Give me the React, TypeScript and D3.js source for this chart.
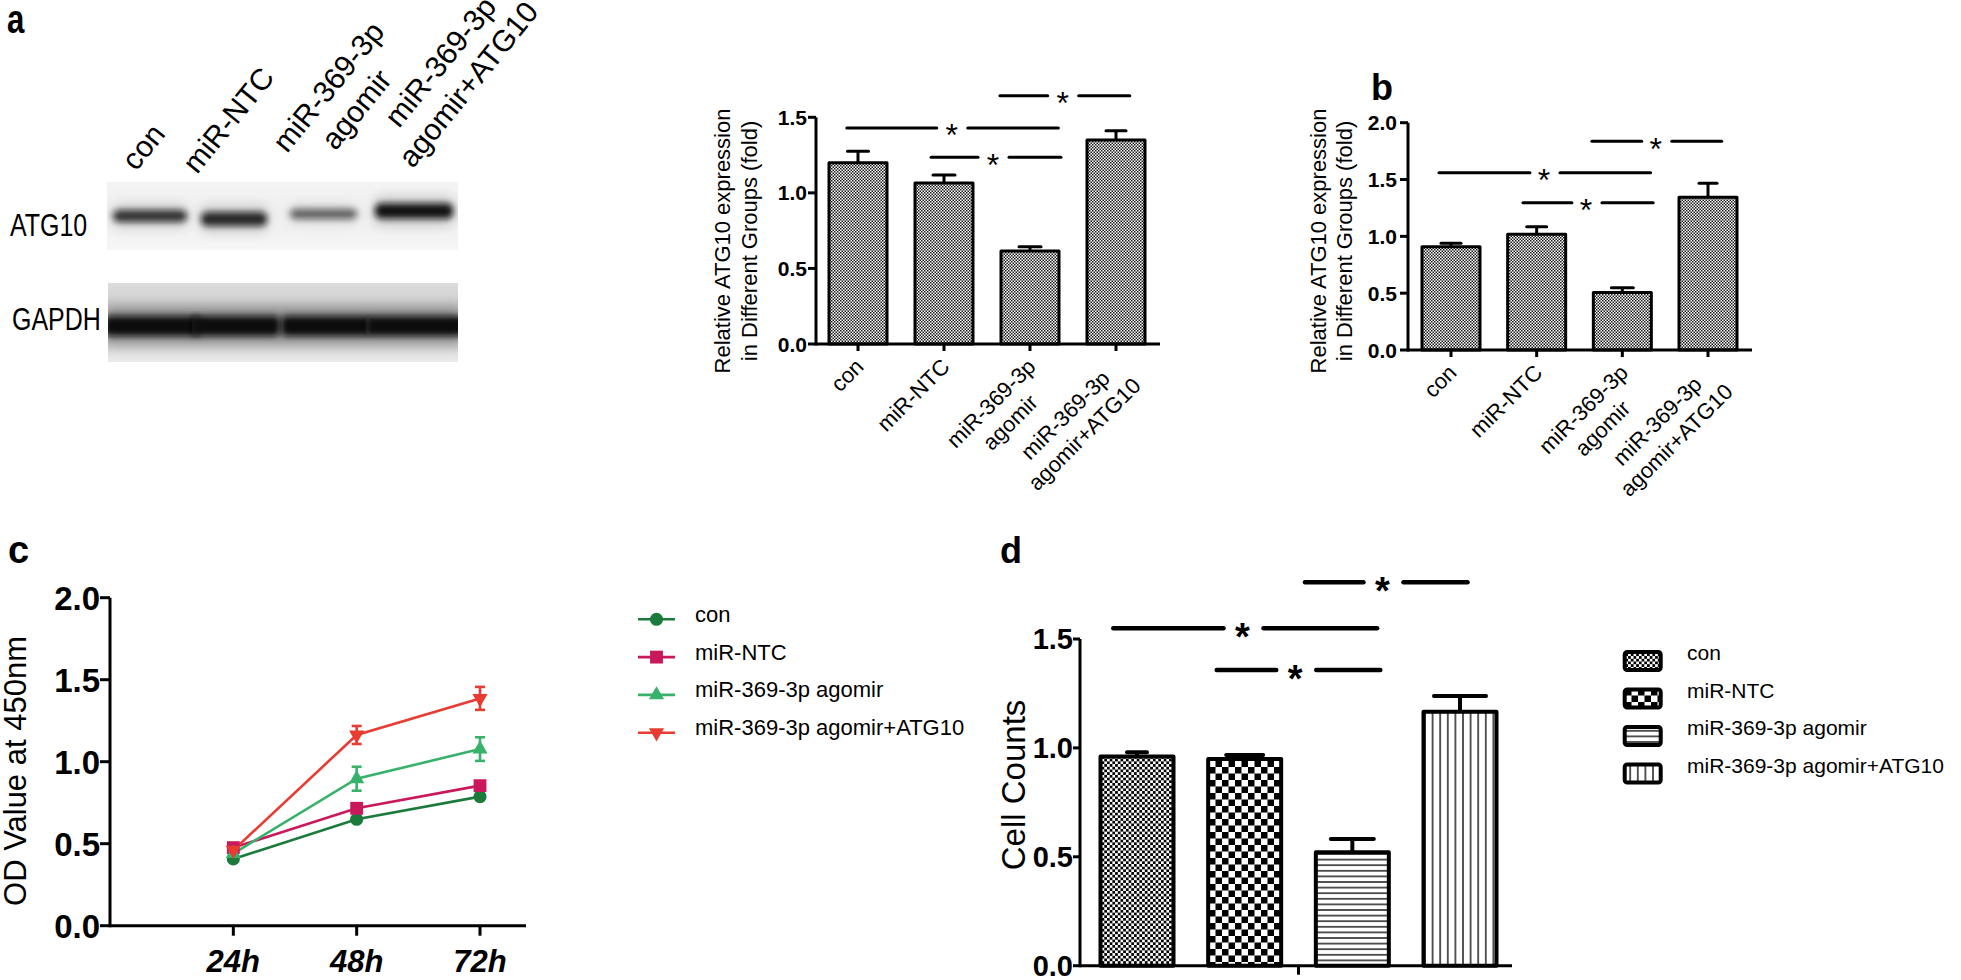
import React from 'react';
import * as d3 from 'd3';

// ---------------- DATA ----------------
const groups = ['con', 'miR-NTC', 'miR-369-3p agomir', 'miR-369-3p agomir+ATG10'];
const groupTickLines = [['con'], ['miR-NTC'], ['miR-369-3p', 'agomir'], ['miR-369-3p', 'agomir+ATG10']];

// panel a – relative ATG10 expression (western blot quantification)
const aMeans = [1.2, 1.065, 0.615, 1.35];
const aSems = [0.076, 0.053, 0.029, 0.061];
const aTicks = [0, 0.5, 1.0, 1.5];
// panel b – relative ATG10 expression
const bMeans = [0.909, 1.018, 0.507, 1.344];
const bSems = [0.03, 0.067, 0.041, 0.123];
const bTicks = [0, 0.5, 1.0, 1.5, 2.0];
// panel c – OD value at 450nm
const timePoints = ['24h', '48h', '72h'];
const cCon = [0.407, 0.649, 0.787];
const cConErr = [0.012, 0.015, 0.015];
const cNTC = [0.476, 0.716, 0.854];
const cNTCErr = [0.012, 0.015, 0.015];
const cAgomir = [0.44, 0.896, 1.077];
const cAgomirErr = [0.02, 0.073, 0.072];
const cATG10 = [0.46, 1.163, 1.386];
const cATG10Err = [0.02, 0.055, 0.07];
const cTicks = [0, 0.5, 1.0, 1.5, 2.0];
// panel d – cell counts
const dMeans = [0.96, 0.949, 0.521, 1.166];
const dSems = [0.02, 0.018, 0.061, 0.072];
const dTicks = [0, 0.5, 1.0, 1.5];

// western blot band intensities (relative darkness)
const blotRows = ['ATG10', 'GAPDH'];
const atg10Band = [0.8, 0.85, 0.58, 0.97];
const gapdhBand = [1.0, 1.0, 1.0, 1.0];

// significance annotations: [y level (data units), x start, x end, star x] (x in category-index units)
const aSig = [[1.642, 1.65, 3.16, 2.38], [1.43, -0.13, 2.33, 1.09], [1.235, 0.85, 2.36, 1.57]];
const bSig = [[1.836, 1.645, 3.16, 2.39], [1.56, -0.14, 2.33, 1.085], [1.296, 0.84, 2.36, 1.575]];
const dSig = [[1.76, 1.56, 3.07, 2.28], [1.549, -0.22, 2.23, 0.98], [1.358, 0.74, 2.26, 1.47]];

// ---------------- STYLE ----------------
const W = 1961, H = 980;
const FONT = "'Liberation Sans', Arial, Helvetica, sans-serif";
const cColors = ['#1c7a3d', '#c9195c', '#38b26a', '#e83c33'];
const cSymbols = ['circle', 'square', 'triUp', 'triDown'];
const dFills = ['pDCon', 'pDNtc', 'pDH', 'pDV'];

let _ctx: CanvasRenderingContext2D | null = null;
function measure(text: string, font: string): number {
  if (!_ctx) _ctx = document.createElement('canvas').getContext('2d');
  if (!_ctx) return text.length * 10;
  _ctx.font = font;
  return _ctx.measureText(text).width;
}

function symbolPath(kind: string): { d: string; rot: number } {
  if (kind === 'circle') return { d: d3.symbol().type(d3.symbolCircle).size(135)() as string, rot: 0 };
  if (kind === 'square') return { d: d3.symbol().type(d3.symbolSquare).size(165)() as string, rot: 0 };
  if (kind === 'triUp') return { d: d3.symbol().type(d3.symbolTriangle).size(100)() as string, rot: 0 };
  return { d: d3.symbol().type(d3.symbolTriangle).size(100)() as string, rot: 180 };
}

type BarCfg = {
  x: d3.ScalePoint<string>;
  y: d3.ScaleLinear<number, number>;
  means: number[];
  sems: number[];
  ticks: number[];
  axisX: number;
  axisEnd: number;
  barW: number;
  capW: number[];
  barSW: number;
  axisSW: number;
  fills: string[];
  tickLen: number;
  tickFs: number;
  labelRight: number;
  sig: number[][];
  sigSW: number;
  starFs: number;
  starWeight: string;
  gapL: number;
  gapR: number;
  centerTick: boolean;
  xTickLen: number;
  xLabels: boolean;
};

function RotLabel({ x, y, lines, fs, lh }: { x: number; y: number; lines: string[]; fs: number; lh: number }) {
  const font = `${fs}px ${FONT}`;
  const ws = lines.map((l) => measure(l, font));
  const wmax = Math.max(...ws);
  return (
    <g transform={`translate(${x},${y}) rotate(-45)`}>
      {lines.map((l, i) => (
        <text key={i} x={-(wmax - ws[i]) / 2} y={i * lh} textAnchor="end" fontSize={fs} fill="#000">
          {l}
        </text>
      ))}
    </g>
  );
}

function BarPanel({ c }: { c: BarCfg }) {
  const y0 = c.y(0);
  const step = c.x.step();
  const first = c.x(groups[0]) as number;
  const fx = (f: number) => first + f * step;
  const yTop = c.y(c.ticks[c.ticks.length - 1]);
  return (
    <g>
      {groups.map((g, i) => {
        const cx = c.x(g) as number;
        const top = c.y(c.means[i]);
        return (
          <rect
            key={g}
            x={cx - c.barW / 2}
            y={top}
            width={c.barW}
            height={y0 - top}
            fill={`url(#${c.fills[i]})`}
            stroke="#000"
            strokeWidth={c.barSW}
            strokeLinejoin="round"
          />
        );
      })}
      {groups.map((g, i) => {
        const cx = c.x(g) as number;
        const top = c.y(c.means[i]);
        const et = c.y(c.means[i] + c.sems[i]);
        return (
          <g key={g} stroke="#000" strokeWidth={c.barSW} strokeLinecap="round">
            <line x1={cx} x2={cx} y1={top} y2={et} strokeLinecap="butt" />
            <line x1={cx - c.capW[i] / 2} x2={cx + c.capW[i] / 2} y1={et} y2={et} />
          </g>
        );
      })}
      {/* axes */}
      <g stroke="#000" strokeWidth={c.axisSW}>
        <line x1={c.axisX} x2={c.axisX} y1={yTop} y2={y0 + c.axisSW / 2} />
        <line x1={c.axisX} x2={c.axisEnd} y1={y0} y2={y0} />
        {c.ticks.map((t) => (
          <line key={t} x1={c.axisX - c.tickLen} x2={c.axisX} y1={c.y(t)} y2={c.y(t)} />
        ))}
        {c.centerTick ? (
          <line x1={fx(1.5)} x2={fx(1.5)} y1={y0} y2={y0 + c.xTickLen} />
        ) : (
          groups.map((g) => (
            <line key={g} x1={c.x(g) as number} x2={c.x(g) as number} y1={y0} y2={y0 + c.xTickLen} />
          ))
        )}
      </g>
      {c.ticks.map((t) => (
        <text
          key={t}
          x={c.labelRight}
          y={c.y(t)}
          dy="0.36em"
          textAnchor="end"
          fontSize={c.tickFs}
          fontWeight="bold"
        >
          {d3.format('.1f')(t)}
        </text>
      ))}
      {c.xLabels &&
        groups.map((g, i) => (
          <RotLabel key={g} x={(c.x(g) as number) + 7} y={y0 + 24} lines={groupTickLines[i]} fs={22} lh={27} />
        ))}
      {/* significance brackets */}
      {c.sig.map((s, k) => {
        const yy = c.y(s[0]);
        const xs = fx(s[1]);
        const xe = fx(s[2]);
        const st = fx(s[3]);
        return (
          <g key={k}>
            <g stroke="#000" strokeWidth={c.sigSW} strokeLinecap="round">
              <line x1={xs} x2={st - c.gapL} y1={yy} y2={yy} />
              <line x1={st + c.gapR} x2={xe} y1={yy} y2={yy} />
            </g>
            <text
              x={st}
              y={yy + c.starFs * 0.58}
              textAnchor="middle"
              fontSize={c.starFs}
              fontWeight={c.starWeight}
            >
              *
            </text>
          </g>
        );
      })}
    </g>
  );
}

export default function App() {
  // scales
  const yA = d3.scaleLinear().domain([0, 1.5]).range([344, 117.3]);
  const xA = d3.scalePoint<string>().domain(groups).range([858, 1116]);
  const yB = d3.scaleLinear().domain([0, 2]).range([350, 122.7]);
  const xB = d3.scalePoint<string>().domain(groups).range([1451, 1708]);
  const yC = d3.scaleLinear().domain([0, 2]).range([925.7, 597.7]);
  const xC = d3.scalePoint<string>().domain(['', ...timePoints]).range([110, 480]);
  const yD = d3.scaleLinear().domain([0, 1.5]).range([965.7, 639]);
  const xD = d3.scalePoint<string>().domain(groups).range([1137, 1460]);

  const abFills = ['pFine', 'pFine', 'pFine', 'pFine'];

  const cfgA: BarCfg = {
    x: xA, y: yA, means: aMeans, sems: aSems, ticks: aTicks, axisX: 816, axisEnd: 1160, barW: 58,
    capW: [21, 22, 22, 20], barSW: 3, axisSW: 3, fills: abFills, tickLen: 8, tickFs: 21, labelRight: 807,
    sig: aSig, sigSW: 3, starFs: 32, starWeight: 'normal', gapL: 15, gapR: 16, centerTick: false, xTickLen: 7,
    xLabels: true,
  };
  const cfgB: BarCfg = {
    x: xB, y: yB, means: bMeans, sems: bSems, ticks: bTicks, axisX: 1408, axisEnd: 1752, barW: 58,
    capW: [20, 20, 22, 18], barSW: 3, axisSW: 3, fills: abFills, tickLen: 8, tickFs: 21, labelRight: 1397,
    sig: bSig, sigSW: 3, starFs: 32, starWeight: 'normal', gapL: 14, gapR: 16, centerTick: false, xTickLen: 7,
    xLabels: true,
  };
  const cfgD: BarCfg = {
    x: xD, y: yD, means: dMeans, sems: dSems, ticks: dTicks, axisX: 1080, axisEnd: 1512, barW: 73,
    capW: [20, 37, 43, 52], barSW: 4, axisSW: 3, fills: dFills, tickLen: 7, tickFs: 29, labelRight: 1073,
    sig: dSig, sigSW: 4.5, starFs: 38, starWeight: 'bold', gapL: 19, gapR: 21, centerTick: true, xTickLen: 9,
    xLabels: false,
  };

  // panel c series
  const cVals = [cCon, cNTC, cAgomir, cATG10];
  const cErrs = [cConErr, cNTCErr, cAgomirErr, cATG10Err];
  const line = d3
    .line<number>()
    .x((_, i) => xC(timePoints[i]) as number)
    .y((v) => yC(v));

  // blot layout
  const lanes = [
    [110, 190],
    [198, 270],
    [287, 360],
    [372, 456],
  ];
  const atgBandY = [216, 219, 214, 211];
  const atgBandH = [12, 14, 10, 15];
  const blotLabelPos = [
    [136, 172],
    [197, 175],
    [287, 154],
    [399, 129],
  ];
  const blotFs = 30;
  const blotFont = `${blotFs}px ${FONT}`;

  return (
    <svg
      width={W}
      height={H}
      viewBox={`0 0 ${W} ${H}`}
      style={{ position: 'absolute', left: 0, top: 0, background: '#fff' }}
      fontFamily={FONT}
    >
      <defs>
        <pattern id="pFine" patternUnits="userSpaceOnUse" width="3" height="3">
          <rect width="3" height="3" fill="#fff" />
          <rect width="1.5" height="1.5" fill="#1a1a1a" />
          <rect x="1.5" y="1.5" width="1.5" height="1.5" fill="#1a1a1a" />
        </pattern>
        <pattern id="pDCon" patternUnits="userSpaceOnUse" width="5.4" height="5.4">
          <rect width="5.4" height="5.4" fill="#fff" />
          <rect width="2.7" height="2.7" fill="#000" />
          <rect x="2.7" y="2.7" width="2.7" height="2.7" fill="#000" />
        </pattern>
        <pattern id="pDNtc" patternUnits="userSpaceOnUse" width="13" height="13">
          <rect width="13" height="13" fill="#fff" />
          <rect width="6.5" height="6.5" fill="#000" />
          <rect x="6.5" y="6.5" width="6.5" height="6.5" fill="#000" />
        </pattern>
        <pattern id="pDH" patternUnits="userSpaceOnUse" width="10" height="5.6">
          <rect width="10" height="5.6" fill="#fff" />
          <line x1="0" x2="10" y1="2.8" y2="2.8" stroke="#000" strokeWidth="1.3" />
        </pattern>
        <pattern id="pDV" patternUnits="userSpaceOnUse" width="7.6" height="10">
          <rect width="7.6" height="10" fill="#fff" />
          <line x1="3.8" x2="3.8" y1="0" y2="10" stroke="#000" strokeWidth="1.3" />
        </pattern>
        <filter id="blurBand" x="-20%" y="-150%" width="140%" height="400%">
          <feGaussianBlur stdDeviation="3.4" />
        </filter>
        <filter id="blurWide" x="-20%" y="-150%" width="140%" height="400%">
          <feGaussianBlur stdDeviation="6" />
        </filter>
        <linearGradient id="gapdhBg" x1="0" x2="0" y1="0" y2="1">
          <stop offset="0" stopColor="#dcdcdc" />
          <stop offset="0.35" stopColor="#cdcdcd" />
          <stop offset="0.75" stopColor="#d8d8d8" />
          <stop offset="1" stopColor="#eaeaea" />
        </linearGradient>
        <linearGradient id="atgBg" x1="0" x2="0" y1="0" y2="1">
          <stop offset="0" stopColor="#f4f4f4" />
          <stop offset="0.5" stopColor="#eeeeee" />
          <stop offset="1" stopColor="#f6f6f6" />
        </linearGradient>
        <clipPath id="clipAtg">
          <rect x={107} y={182} width={351} height={68} />
        </clipPath>
        <clipPath id="clipGapdh">
          <rect x={108} y={283} width={350} height={79} />
        </clipPath>
      </defs>

      {/* ================= PANEL a: western blot ================= */}
      <g transform="translate(7,33) scale(0.78,1)">
        <text fontSize={40} fontWeight="bold">a</text>
      </g>
      {groupTickLines.map((lines, i) => {
        const ws = lines.map((l) => measure(l, blotFont));
        return (
          <g key={i} transform={`translate(${blotLabelPos[i][0]},${blotLabelPos[i][1]}) rotate(-51)`}>
            {lines.map((l, j) => (
              <text key={j} x={(ws[0] - ws[j]) / 2} y={j * 36} fontSize={blotFs}>
                {l}
              </text>
            ))}
          </g>
        );
      })}
      <g transform="translate(10,236) scale(0.78,1)">
        <text fontSize={32}>{blotRows[0]}</text>
      </g>
      <g transform="translate(12,330) scale(0.78,1)">
        <text fontSize={32}>{blotRows[1]}</text>
      </g>
      {/* ATG10 blot */}
      <rect x={107} y={182} width={351} height={68} fill="url(#atgBg)" />
      <g clipPath="url(#clipAtg)">
        {lanes.map((ln, i) => (
          <rect
            key={'h' + i}
            x={ln[0] + 2}
            y={atgBandY[i] - atgBandH[i]}
            width={ln[1] - ln[0] - 4}
            height={atgBandH[i] * 2}
            rx={8}
            fill="#000"
            opacity={atg10Band[i] * 0.16}
            filter="url(#blurWide)"
          />
        ))}
        {lanes.map((ln, i) => (
          <rect
            key={'b' + i}
            x={ln[0] + 3}
            y={atgBandY[i] - atgBandH[i] / 2}
            width={ln[1] - ln[0] - 6}
            height={atgBandH[i]}
            rx={6}
            fill="#101010"
            opacity={atg10Band[i]}
            filter="url(#blurBand)"
          />
        ))}
      </g>
      {/* GAPDH blot */}
      <rect x={108} y={283} width={350} height={79} fill="url(#gapdhBg)" />
      <g clipPath="url(#clipGapdh)">
        <rect x={104} y={306} width={358} height={40} fill="#000" opacity={0.3} filter="url(#blurWide)" />
        {lanes.map((ln, i) => (
          <rect
            key={'g' + i}
            x={ln[0] - 6}
            y={316}
            width={ln[1] - ln[0] + 16}
            height={20}
            rx={5}
            fill="#111"
            opacity={gapdhBand[i]}
            filter="url(#blurBand)"
          />
        ))}
      </g>

      {/* ================= PANEL a: bar chart ================= */}
      <text transform="translate(730,241) rotate(-90)" textAnchor="middle" fontSize={22}>
        Relative ATG10 expression
      </text>
      <text transform="translate(757,241) rotate(-90)" textAnchor="middle" fontSize={22}>
        in Different Groups (fold)
      </text>
      <BarPanel c={cfgA} />

      {/* ================= PANEL b ================= */}
      <text x={1371} y={100} fontSize={36} fontWeight="bold">
        b
      </text>
      <text transform="translate(1326,241) rotate(-90)" textAnchor="middle" fontSize={22}>
        Relative ATG10 expression
      </text>
      <text transform="translate(1352,241) rotate(-90)" textAnchor="middle" fontSize={22}>
        in Different Groups (fold)
      </text>
      <BarPanel c={cfgB} />

      {/* ================= PANEL c ================= */}
      <text x={8} y={563} fontSize={38} fontWeight="bold">
        c
      </text>
      <text transform="translate(26,771) rotate(-90)" textAnchor="middle" fontSize={31}>
        OD Value at 450nm
      </text>
      <g stroke="#000" strokeWidth={3}>
        <line x1={110} x2={110} y1={yC(2)} y2={yC(0) + 1.5} />
        <line x1={110} x2={526} y1={yC(0)} y2={yC(0)} />
        {cTicks.map((t) => (
          <line key={t} x1={100} x2={110} y1={yC(t)} y2={yC(t)} />
        ))}
        {timePoints.map((t) => (
          <line key={t} x1={xC(t) as number} x2={xC(t) as number} y1={yC(0)} y2={yC(0) + 10} />
        ))}
      </g>
      {cTicks.map((t) => (
        <text key={t} x={100} y={yC(t)} dy="0.36em" textAnchor="end" fontSize={33} fontWeight="bold">
          {d3.format('.1f')(t)}
        </text>
      ))}
      {timePoints.map((t) => (
        <text
          key={t}
          x={xC(t) as number}
          y={972}
          textAnchor="middle"
          fontSize={31}
          fontWeight="bold"
          fontStyle="italic"
        >
          {t}
        </text>
      ))}
      {cVals.map((vals, s) => (
        <path key={'l' + s} d={line(vals) as string} fill="none" stroke={cColors[s]} strokeWidth={2.6} />
      ))}
      {cVals.map((vals, s) =>
        vals.map((v, i) => {
          const x = xC(timePoints[i]) as number;
          const e = cErrs[s][i];
          return (
            <g key={'e' + s + '-' + i} stroke={cColors[s]} strokeWidth={2.6}>
              <line x1={x} x2={x} y1={yC(v - e)} y2={yC(v + e)} />
              <line x1={x - 5} x2={x + 5} y1={yC(v - e)} y2={yC(v - e)} />
              <line x1={x - 5} x2={x + 5} y1={yC(v + e)} y2={yC(v + e)} />
            </g>
          );
        })
      )}
      {cVals.map((vals, s) => {
        const sp = symbolPath(cSymbols[s]);
        return vals.map((v, i) => (
          <path
            key={'m' + s + '-' + i}
            d={sp.d}
            transform={`translate(${xC(timePoints[i])},${yC(v)}) rotate(${sp.rot})`}
            fill={cColors[s]}
          />
        ));
      })}
      {/* legend c */}
      {groups.map((g, s) => {
        const ly = 619.3 + s * 37.8;
        const sp = symbolPath(cSymbols[s]);
        return (
          <g key={'lg' + s}>
            <line x1={638} x2={675} y1={ly} y2={ly} stroke={cColors[s]} strokeWidth={2.6} />
            <path d={sp.d} transform={`translate(656.5,${ly}) rotate(${sp.rot})`} fill={cColors[s]} />
            <text x={695} y={ly + 2.5} fontSize={22}>
              {g}
            </text>
          </g>
        );
      })}

      {/* ================= PANEL d ================= */}
      <text x={1000} y={563} fontSize={36} fontWeight="bold">
        d
      </text>
      <text transform="translate(1025,785) rotate(-90)" textAnchor="middle" fontSize={33}>
        Cell Counts
      </text>
      <BarPanel c={cfgD} />
      {groups.map((g, s) => {
        const top = 650 + s * 37.5;
        return (
          <g key={'dl' + s}>
            <rect
              x={1624.7}
              y={top + 2}
              width={36}
              height={18}
              rx={2.5}
              fill={`url(#${dFills[s]})`}
              stroke="#000"
              strokeWidth={4}
            />
            <text x={1687} y={top + 10} fontSize={21}>
              {g}
            </text>
          </g>
        );
      })}
    </svg>
  );
}
